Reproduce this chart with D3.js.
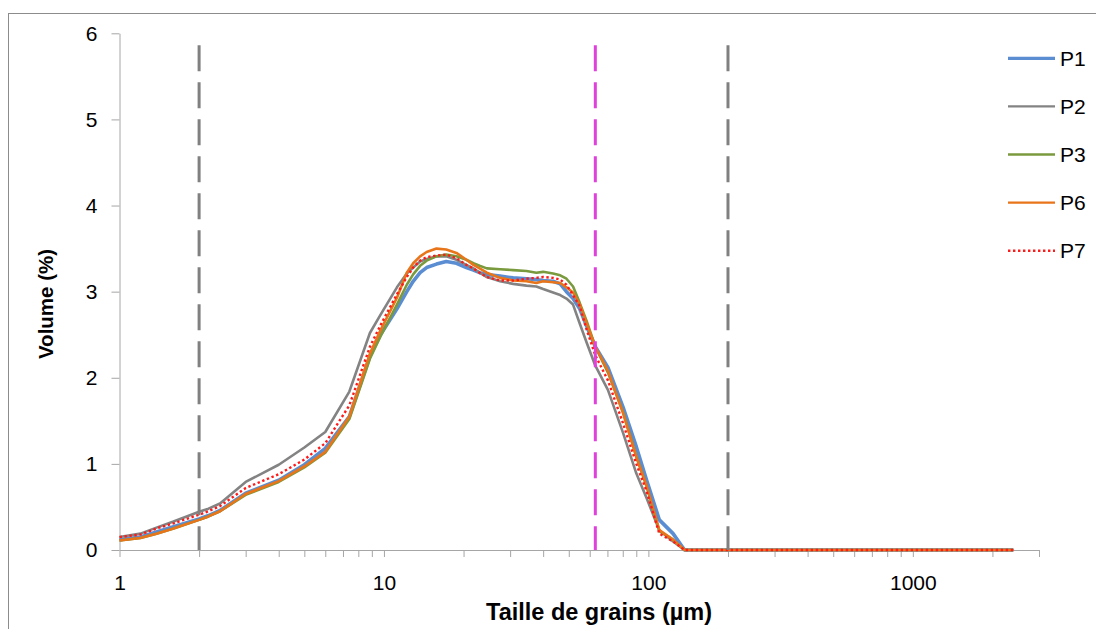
<!DOCTYPE html>
<html>
<head>
<meta charset="utf-8">
<script src="https://cdn.jsdelivr.net/npm/d3@7"></script>
<style>
  html, body { margin: 0; padding: 0; background: #ffffff; }
  svg { display: block; font-family: "Liberation Sans", Arial, sans-serif; }
</style>
</head>
<body>
<svg id="chart" width="1096" height="629"></svg>
<script>
// ---- data ----
const sizes = [1, 1.2, 1.38, 1.6, 2, 2.17, 2.4, 3, 4, 5, 6, 7.4, 8.85, 9.7, 11.2, 12.2, 12.9, 13.7, 14.5, 15.8,
  17.2, 18.8, 20.5, 21.8, 23, 24.5, 27.5, 30.8, 34.6, 37.7, 40, 43.6, 46.4, 49, 51.9, 55, 58.4, 63, 70.3,
  80.2, 90, 98.5, 110, 124, 137, 150, 200, 300, 500, 1000, 2000, 2400];

const P1 = [0.12, 0.15, 0.21, 0.27, 0.36, 0.40, 0.46, 0.66, 0.81, 0.99, 1.18, 1.55, 2.25, 2.50, 2.80, 3.00, 3.12, 3.22, 3.28, 3.32,
  3.35, 3.33, 3.28, 3.25, 3.22, 3.20, 3.18, 3.16, 3.15, 3.14, 3.13, 3.12, 3.09, 3.00, 2.92, 2.80, 2.60, 2.36, 2.12,
  1.66, 1.20, 0.81, 0.35, 0.19, 0, 0, 0, 0, 0, 0, 0, 0];
const P2 = [0.15, 0.19, 0.26, 0.33, 0.445, 0.48, 0.54, 0.79, 0.99, 1.19, 1.37, 1.84, 2.52, 2.73, 3.05, 3.21, 3.28, 3.35, 3.38, 3.41,
  3.41, 3.37, 3.31, 3.27, 3.22, 3.17, 3.12, 3.09, 3.07, 3.06, 3.03, 2.99, 2.96, 2.92, 2.85, 2.63, 2.41, 2.14, 1.86,
  1.36, 0.89, 0.60, 0.23, 0.10, 0, 0, 0, 0, 0, 0, 0, 0];
const P3 = [0.11, 0.14, 0.19, 0.25, 0.35, 0.39, 0.45, 0.64, 0.79, 0.96, 1.13, 1.52, 2.22, 2.48, 2.85, 3.08, 3.20, 3.30, 3.36, 3.41,
  3.43, 3.41, 3.37, 3.33, 3.30, 3.27, 3.26, 3.25, 3.24, 3.22, 3.23, 3.21, 3.19, 3.15, 3.06, 2.87, 2.66, 2.36, 2.06,
  1.60, 1.09, 0.74, 0.22, 0.12, 0, 0, 0, 0, 0, 0, 0, 0];
const P6 = [0.11, 0.14, 0.19, 0.25, 0.35, 0.39, 0.45, 0.65, 0.80, 0.97, 1.14, 1.55, 2.28, 2.55, 2.93, 3.22, 3.33, 3.41, 3.46, 3.50,
  3.49, 3.45, 3.37, 3.31, 3.27, 3.22, 3.16, 3.13, 3.12, 3.10, 3.12, 3.11, 3.10, 3.05, 2.99, 2.85, 2.63, 2.36, 2.08,
  1.59, 1.08, 0.74, 0.23, 0.12, 0, 0, 0, 0, 0, 0, 0, 0];
const P7 = [0.15, 0.18, 0.25, 0.31, 0.41, 0.45, 0.51, 0.72, 0.88, 1.05, 1.24, 1.68, 2.36, 2.61, 2.97, 3.17, 3.28, 3.36, 3.40, 3.42,
  3.43, 3.39, 3.31, 3.27, 3.22, 3.17, 3.13, 3.13, 3.15, 3.16, 3.17, 3.16, 3.14, 3.08, 2.96, 2.83, 2.56, 2.26, 1.97,
  1.47, 1.00, 0.68, 0.19, 0.10, 0, 0, 0, 0, 0, 0, 0, 0];

const seriesNames = ["P1", "P2", "P3", "P6", "P7"];
const seriesValues = [P1, P2, P3, P6, P7];

// reference lines (µm) and their top value
const refLinesX = [2, 63, 200];
const refLineTop = 5.86;

const xTickValues = [1,2,3,4,5,6,7,8,9,10,20,30,40,50,60,70,80,90,100,200,300,400,500,600,700,800,900,1000,2000,3000];
const xLabelValues = [1, 10, 100, 1000];
const yTickValues = [0, 1, 2, 3, 4, 5, 6];

// ---- styles ----
const seriesStyle = {
  P1: { color: "#5b8dd2", width: 3.6, dash: null },
  P2: { color: "#838383", width: 2.6, dash: null },
  P3: { color: "#7a9a3e", width: 2.6, dash: null },
  P6: { color: "#e8751a", width: 2.6, dash: null },
  P7: { color: "#ff1a1a", width: 2.4, dash: "2.4 2.6" }
};
const refStyle = { 2: "#808080", 63: "#e040dc", 200: "#808080" };

const svg = d3.select("#chart");

// outer border
svg.append("rect").attr("x", 8.5).attr("y", 13.5).attr("width", 1200).attr("height", 800)
  .attr("fill", "none").attr("stroke", "#8c8c8c").attr("stroke-width", 1);

const x = d3.scaleLog().domain([1, 3000]).range([119.5, 1039]);
const y = d3.scaleLinear().domain([0, 6]).range([550, 33.3]);

// axes
const axisColor = "#a6a6a6";
const xAxis = d3.axisBottom(x).tickValues(xTickValues).tickSize(7).tickSizeOuter(0).tickPadding(18)
  .tickFormat(d => xLabelValues.includes(d) ? d3.format("d")(d) : "");
const gx = svg.append("g").attr("transform", "translate(0,550)").call(xAxis);
gx.select(".domain").attr("stroke", axisColor);
gx.selectAll(".tick line").attr("stroke", axisColor);
gx.selectAll(".tick text").attr("fill", "#000").attr("font-size", 21)
  .attr("font-family", "Liberation Sans, Arial, sans-serif");

const yAxis = d3.axisLeft(y).tickValues(yTickValues).tickSize(8).tickSizeOuter(0).tickPadding(14)
  .tickFormat(d3.format("d"));
const gy = svg.append("g").attr("transform", "translate(119.5,0)").call(yAxis);
gy.select(".domain").attr("stroke", axisColor);
gy.selectAll(".tick line").attr("stroke", axisColor);
gy.selectAll(".tick text").attr("fill", "#000").attr("font-size", 21)
  .attr("font-family", "Liberation Sans, Arial, sans-serif");

// axis titles
svg.append("text").attr("x", 599).attr("y", 620).attr("text-anchor", "middle")
  .attr("font-size", 23.5).attr("font-weight", "bold").text("Taille de grains (µm)");
svg.append("text").attr("transform", "translate(53,304) rotate(-90)").attr("text-anchor", "middle")
  .attr("font-size", 20.5).attr("font-weight", "bold").text("Volume (%)");

// series
const line = d3.line().x((d, i) => x(sizes[i])).y(d => y(d));
seriesNames.forEach((name, k) => {
  const st = seriesStyle[name];
  svg.append("path").datum(seriesValues[k])
    .attr("d", line)
    .attr("fill", "none")
    .attr("stroke", st.color)
    .attr("stroke-width", st.width)
    .attr("stroke-linejoin", "round")
    .attr("stroke-dasharray", st.dash);
});

// reference dashed lines
refLinesX.forEach(v => {
  svg.append("line")
    .attr("x1", x(v)).attr("x2", x(v))
    .attr("y1", y(refLineTop)).attr("y2", y(0))
    .attr("stroke", refStyle[v]).attr("stroke-width", 3)
    .attr("stroke-dasharray", "26 11");
});

// legend
const legendY = d3.scalePoint().domain(seriesNames).range([58.3, 250.7]);
seriesNames.forEach(name => {
  const st = seriesStyle[name];
  const cy = legendY(name);
  svg.append("line").attr("x1", 1008).attr("x2", 1055).attr("y1", cy).attr("y2", cy)
    .attr("stroke", st.color).attr("stroke-width", name === "P1" ? 3.2 : 2.4)
    .attr("stroke-dasharray", st.dash);
  svg.append("text").attr("x", 1060).attr("y", cy + 7.5).attr("font-size", 21)
    .attr("fill", "#000").text(name);
});
</script>
</body>
</html>
